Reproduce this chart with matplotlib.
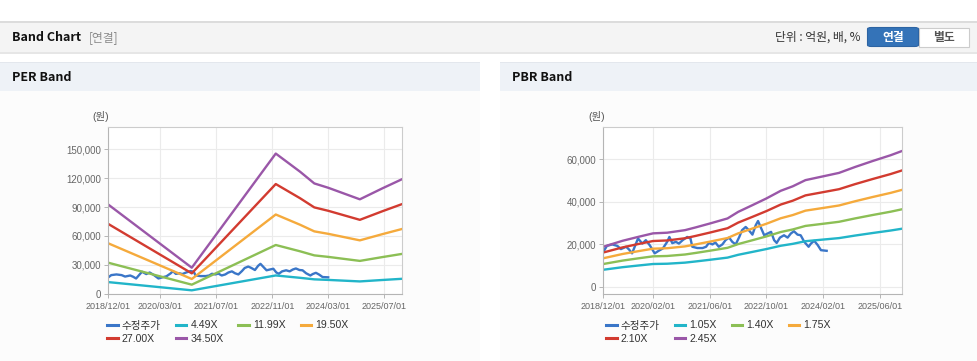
import matplotlib
matplotlib.use("Agg")
import matplotlib.pyplot as plt
import matplotlib.dates as mdates
from matplotlib.patches import Rectangle, FancyBboxPatch
import pandas as pd

# 수정주가 (same stock price for both charts)
price_dates = ["2018-12-01", "2019-01-01", "2019-02-15", "2019-04-01", "2019-05-01", "2019-06-15",
               "2019-07-10", "2019-08-05", "2019-09-25", "2019-11-01", "2019-12-01", "2020-01-05",
               "2020-02-15", "2020-03-20", "2020-04-25", "2020-06-01", "2020-06-20", "2020-07-15",
               "2020-08-15", "2020-09-10", "2020-10-12", "2020-11-20", "2020-12-18", "2021-01-03",
               "2021-02-15", "2021-04-01", "2021-05-01", "2021-05-25", "2021-06-25", "2021-07-20",
               "2021-08-18", "2021-09-18", "2021-10-15", "2021-11-15", "2021-12-12", "2022-01-10",
               "2022-02-10", "2022-03-06", "2022-04-06", "2022-05-03", "2022-06-03", "2022-07-01",
               "2022-07-21", "2022-08-12", "2022-09-12", "2022-10-10", "2022-11-10", "2022-12-06",
               "2022-12-28", "2023-01-25", "2023-03-01", "2023-04-01", "2023-04-28", "2023-05-25",
               "2023-06-25", "2023-07-22", "2023-08-22", "2023-09-28", "2023-10-18", "2023-11-15",
               "2023-12-15", "2024-01-12", "2024-03-01"]
price = [16500, 19300, 20000, 19300, 17800, 18900,
         17600, 15800, 22800, 20400, 22000, 19500,
         15800, 17000, 18100, 21200, 23500, 20600,
         21200, 20400, 22000, 23500, 22800, 18900,
         18300, 18300, 18900, 20700, 20000, 20900,
         18900, 20000, 22000, 23200, 21200, 20000,
         23500, 26700, 28200, 26700, 24600, 29000,
         31000, 28200, 24300, 25100, 25900, 22000,
         20700, 23200, 24300, 23200, 25100, 26200,
         24600, 24300, 21200, 18900, 20400, 21700,
         19700, 17300, 17000]

# PER bands
per_dates = ["2018-12-01", "2020-12-01", "2022-12-01", "2023-07-01", "2023-11-01",
             "2024-03-01", "2024-12-01", "2025-06-15", "2025-12-01"]
per_449 = [12100, 3510, 18940, 16480, 14900, 14320, 12750, 14240, 15460]
per_1199 = [32320, 9380, 50570, 44000, 39790, 38230, 34060, 38020, 41290]
per_1950 = [52570, 15260, 82240, 71560, 64720, 62170, 55390, 61840, 67150]
per_2700 = [72780, 21130, 113870, 99080, 89610, 86090, 76700, 85620, 92970]
per_3450 = [93000, 27000, 145500, 126600, 114500, 110000, 98000, 109400, 118800]
per_labels = ["4.49X", "11.99X", "19.50X", "27.00X", "34.50X"]

# PBR bands
pbr_dates = ["2018-12-01", "2019-05-15", "2019-10-01", "2020-02-01", "2020-06-01", "2020-11-01",
             "2021-02-01", "2021-06-01", "2021-11-01", "2022-02-01", "2022-06-01", "2022-10-01",
             "2023-02-01", "2023-05-15", "2023-09-01", "2024-02-01", "2024-06-15", "2024-11-01",
             "2025-04-01", "2025-09-01", "2025-12-01"]
pbr_105 = [8100, 9300, 10110, 10800, 10930, 11440, 12000, 12770, 13800, 15130, 16460,
           17830, 19370, 20270, 21510, 22290, 22970, 24170, 25370, 26530, 27320]
pbr_140 = [10800, 12400, 13490, 14400, 14570, 15260, 16000, 17030, 18400, 20170, 21940,
           23770, 25830, 27030, 28690, 29710, 30630, 32230, 33830, 35370, 36430]
pbr_175 = [13500, 15500, 16860, 18000, 18210, 19070, 20000, 21290, 23000, 25210, 27430,
           29710, 32290, 33790, 35860, 37140, 38290, 40290, 42290, 44210, 45540]
pbr_210 = [16200, 18600, 20230, 21600, 21860, 22890, 24000, 25540, 27600, 30260, 32910,
           35660, 38740, 40540, 43030, 44570, 45940, 48340, 50740, 53060, 54640]
pbr_245 = [18900, 21700, 23600, 25200, 25500, 26700, 28000, 29800, 32200, 35300, 38400,
           41600, 45200, 47300, 50200, 52000, 53600, 56400, 59200, 61900, 63750]
pbr_labels = ["1.05X", "1.40X", "1.75X", "2.10X", "2.45X"]

per_ticks = ["2018-12-01", "2020-03-01", "2021-07-01", "2022-11-01", "2024-03-01", "2025-07-01"]
pbr_ticks = ["2018-12-01", "2020-02-01", "2021-06-01", "2022-10-01", "2024-02-01", "2025-06-01"]

colors = ["#3a76c8", "#22b5c9", "#8cbf55", "#f5aa3c", "#d23b30", "#9a57a8"]

plt.rcParams["font.family"] = ["Liberation Sans", "Noto Sans CJK KR", "DejaVu Sans"]

W, H = 978, 361
fig = plt.figure(figsize=(W / 100, H / 100), dpi=100)
fig.patch.set_facecolor("white")


def fx(x):
    return x / W


def fy(y):
    return 1 - y / H


def box(x0, y0, x1, y1, fc, ec="none", lw=0, z=0):
    r = Rectangle((fx(x0), fy(y1)), fx(x1) - fx(x0), fy(y0) - fy(y1), transform=fig.transFigure,
                  facecolor=fc, edgecolor=ec, linewidth=lw, zorder=z)
    fig.add_artist(r)


# header bar
box(0, 52, W, 54, "#e6e6e6")
box(0, 22, W, 52, "#f4f4f4")
box(0, 21, W, 22.5, "#dcdcdc")
fig.text(fx(12), fy(37.5), "Band Chart", family="Noto Sans CJK KR", weight="bold", size=9,
         color="#111111", va="center")
fig.text(fx(89), fy(37.5), "[연결]", family="Noto Sans CJK KR", size=8.5, color="#8a8a8a", va="center")
fig.text(fx(861), fy(37.5), "단위 : 억원, 배, %", family="Noto Sans CJK KR", size=8.5, color="#333333",
         va="center", ha="right")
b1 = FancyBboxPatch((fx(867.5), fy(46.5)), fx(51), 19.0 / H, boxstyle="round,pad=0,rounding_size=0.004",
                    transform=fig.transFigure, facecolor="#3473b8", edgecolor="#2d64a3", linewidth=0.8)
fig.add_artist(b1)
box(919, 27.5, 969, 46.5, "white", ec="#cccccc", lw=0.8)
fig.text(fx(893), fy(37.5), "연결", family="Noto Sans CJK KR", weight="bold", size=8.5, color="white",
         va="center", ha="center")
fig.text(fx(944), fy(37.5), "별도", family="Noto Sans CJK KR", weight="bold", size=8.5, color="#555555",
         va="center", ha="center")

# panels
for x0, x1, title in [(0, 480, "PER Band"), (500, W, "PBR Band")]:
    box(x0, 91, x1, 361, "#fcfcfc")
    box(x0, 62, x1, 91, "#eef2f7")
    box(x0, 61.5, x1, 63, "#e3e7ed")
    fig.text(fx(x0 + 12), fy(77.5), title, family="Noto Sans CJK KR", weight="bold", size=9,
             color="#111111", va="center")


def draw(ax, dates, bands, labels, ticks, ylim, yticks, legx):
    ax.set_facecolor("white")
    l0, = ax.plot(pd.to_datetime(price_dates), price, color=colors[0], lw=1.7, label="수정주가")
    handles = [l0]
    for vals, lab, c in zip(bands, labels, colors[1:]):
        h, = ax.plot(pd.to_datetime(dates), vals, color=c, lw=1.7, label=lab)
        handles.append(h)
    ax.set_xlim(pd.Timestamp("2018-12-01"), pd.Timestamp("2025-12-05"))
    ax.set_ylim(*ylim)
    ax.set_yticks(yticks)
    ax.set_yticklabels([f"{v:,}" for v in yticks])
    ax.set_xticks(pd.to_datetime(ticks))
    ax.xaxis.set_major_formatter(mdates.DateFormatter("%Y/%m/%d"))
    ax.grid(True, color="#ebebeb", lw=0.8)
    ax.set_axisbelow(True)
    for s in ax.spines.values():
        s.set_color("#cccccc")
        s.set_linewidth(0.8)
    ax.spines["left"].set_color("#b5b5b5")
    ax.spines["bottom"].set_color("#b5b5b5")
    ax.tick_params(axis="both", length=3, width=0.7, color="#b5b5b5", colors="#666666", pad=2)
    ax.tick_params(axis="y", labelsize=7)
    ax.tick_params(axis="x", labelsize=6.5, pad=3)
    # row-major order for a 4 column legend
    order = [0, 4, 1, 5, 2, 3]
    ax.legend([handles[i] for i in order], [handles[i].get_label() for i in order], ncol=4,
              loc="upper left", bbox_to_anchor=(fx(legx), fy(320.5)), bbox_transform=fig.transFigure,
              frameon=False, fontsize=7.6, handlelength=1.0, handletextpad=0.4, columnspacing=1.4,
              labelspacing=0.32, borderpad=0, borderaxespad=0, labelcolor="#333333")
    for line in ax.get_legend().get_lines():
        line.set_linewidth(2.2)


ax1 = fig.add_axes([fx(107.7), fy(293.7), fx(402.3) - fx(107.7), fy(126.7) - fy(293.7)])
draw(ax1, per_dates, [per_449, per_1199, per_1950, per_2700, per_3450], per_labels, per_ticks,
     (0, 173400), [0, 30000, 60000, 90000, 120000, 150000], 107)
fig.text(fx(92), fy(116.5), "(원)", size=7.5, color="#555555", va="center")

ax2 = fig.add_axes([fx(603.3), fy(293.7), fx(901.7) - fx(603.3), fy(126.7) - fy(293.7)])
draw(ax2, pbr_dates, [pbr_105, pbr_140, pbr_175, pbr_210, pbr_245], pbr_labels, pbr_ticks,
     (-3150, 75300), [0, 20000, 40000, 60000], 606)
fig.text(fx(588), fy(116.5), "(원)", size=7.5, color="#555555", va="center")

fig.savefig("out.png", dpi=100, facecolor=fig.get_facecolor())
